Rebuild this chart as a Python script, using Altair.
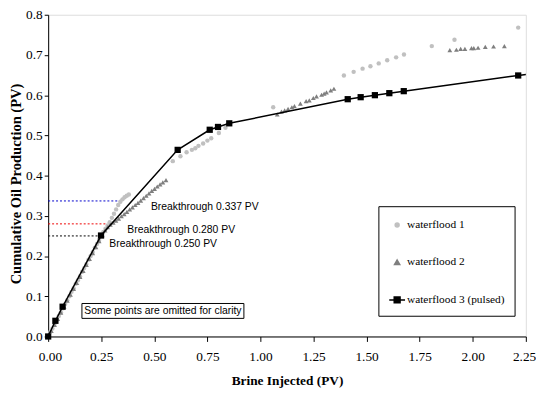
import altair as alt
import pandas as pd

# ---------------- data ----------------
wf1_x = [0.000, 0.010, 0.020, 0.030, 0.040, 0.050, 0.060, 0.070, 0.080, 0.090,
         0.100, 0.110, 0.120, 0.130, 0.140, 0.150, 0.160, 0.170, 0.180, 0.190,
         0.200, 0.210, 0.220, 0.230, 0.240, 0.250, 0.260, 0.270, 0.280, 0.290,
         0.300, 0.310, 0.320, 0.330, 0.340, 0.350, 0.360, 0.370, 0.380,
         0.587, 0.623, 0.652, 0.677, 0.693, 0.708, 0.730, 0.750, 0.768, 0.804, 0.835,
         1.060, 1.393, 1.439, 1.481, 1.518, 1.557, 1.597, 1.639, 1.676, 1.807, 1.914, 2.214]
wf1_y = [0.000, 0.011, 0.020, 0.031, 0.040, 0.051, 0.060, 0.070, 0.081, 0.090,
         0.100, 0.111, 0.120, 0.131, 0.140, 0.150, 0.161, 0.170, 0.180, 0.191,
         0.200, 0.210, 0.221, 0.230, 0.240, 0.251, 0.260, 0.268, 0.276, 0.284,
         0.295, 0.305, 0.316, 0.327, 0.335, 0.341, 0.346, 0.350, 0.353,
         0.436, 0.448, 0.458, 0.464, 0.468, 0.474, 0.480, 0.487, 0.493, 0.506, 0.519,
         0.570, 0.649, 0.658, 0.666, 0.672, 0.679, 0.687, 0.694, 0.701, 0.722, 0.738, 0.768]

wf2_x = [0.000, 0.015, 0.030, 0.045, 0.060, 0.075, 0.090, 0.105, 0.120, 0.135,
         0.150, 0.165, 0.180, 0.195, 0.210, 0.225, 0.240, 0.255, 0.268,
         0.280, 0.293, 0.306, 0.319, 0.332, 0.345, 0.358, 0.371, 0.384, 0.397,
         0.410, 0.423, 0.436, 0.449, 0.462, 0.475, 0.488, 0.501, 0.514, 0.527, 0.540, 0.555,
         1.079, 1.099, 1.114, 1.130, 1.148, 1.160, 1.188, 1.215, 1.230, 1.249,
         1.264, 1.288, 1.300, 1.311, 1.331, 1.346,
         1.892, 1.923, 1.943, 1.963, 1.994, 2.005, 2.025, 2.059, 2.098, 2.149]
wf2_y = [0.000, 0.014, 0.029, 0.044, 0.059, 0.074, 0.089, 0.104, 0.118, 0.133,
         0.148, 0.163, 0.178, 0.193, 0.207, 0.222, 0.237, 0.252, 0.264,
         0.272, 0.278, 0.283, 0.288, 0.293, 0.299, 0.304, 0.310, 0.316, 0.321,
         0.327, 0.332, 0.338, 0.344, 0.350, 0.356, 0.362, 0.367, 0.373, 0.378, 0.383, 0.389,
         0.552, 0.559, 0.562, 0.566, 0.570, 0.573, 0.579, 0.585, 0.587, 0.593,
         0.597, 0.601, 0.604, 0.607, 0.612, 0.616,
         0.712, 0.713, 0.715, 0.715, 0.717, 0.717, 0.718, 0.720, 0.721, 0.722]

wf3_x = [0.000, 0.034, 0.068, 0.249, 0.610, 0.761, 0.800, 0.853, 1.411, 1.472,
         1.539, 1.607, 1.675, 2.214, 2.300]
wf3_y = [0.000, 0.039, 0.074, 0.251, 0.464, 0.514, 0.521, 0.530, 0.590, 0.595,
         0.600, 0.605, 0.610, 0.649, 0.655]

series_names = ["waterflood 1", "waterflood 2", "waterflood 3 (pulsed)"]

bt_values = [0.337, 0.280, 0.250]
bt_end_x = [0.327, 0.270, 0.246]
bt_colors = ["#0000cc", "#ee0000", "#000000"]
bt_labels = ["Breakthrough 0.337 PV", "Breakthrough 0.280 PV", "Breakthrough 0.250 PV"]
bt_label_x = [0.484, 0.373, 0.288]
bt_label_y = [0.3215, 0.264, 0.229]

note_text = ["Some points are omitted for clarity"]
note_x = [0.159]
note_x2 = [0.922]
note_y = [0.045]
note_y2 = [0.082]

x_ticks = [0.0, 0.25, 0.5, 0.75, 1.0, 1.25, 1.5, 1.75, 2.0, 2.25]
y_ticks = [0.0, 0.1, 0.2, 0.3, 0.4, 0.5, 0.6, 0.7, 0.8]

# ---------------- tables ----------------
df1 = pd.DataFrame({"x": wf1_x, "y": wf1_y})
df2 = pd.DataFrame({"x": wf2_x, "y": wf2_y})
df3 = pd.DataFrame({"x": wf3_x, "y": wf3_y})
df_bt = pd.DataFrame({"y": bt_values, "x0": [0.0] * 3, "x1": bt_end_x, "c": bt_colors})
df_btl = pd.DataFrame({"x": bt_label_x, "y": bt_label_y, "t": bt_labels})
df_note = pd.DataFrame({"x": note_x, "x2": note_x2, "y": note_y, "y2": note_y2, "t": note_text})
df_note["xc"] = (df_note["x"] + df_note["x2"]) / 2
df_note["yc"] = (df_note["y"] + df_note["y2"]) / 2
df_leg = pd.DataFrame({"s": series_names, "x": [0.0] * 3, "y": [0.0] * 3})

SERIF = "Liberation Serif"
SANS = "Liberation Sans"

xscale = alt.Scale(domain=[0, 2.25], nice=False, zero=False)
yscale = alt.Scale(domain=[0, 0.8], nice=False, zero=False)

xaxis = alt.Axis(values=x_ticks, format=".2f", grid=False, tickSize=5, tickColor="black",
                 domainColor="black", labelFont=SERIF, labelFontSize=13.5, labelColor="black",
                 labelPadding=8, labelFlush=True, labelFlushOffset=10, labelOverlap=False,
                 title="Brine Injected (PV)", titleFont=SERIF, titleFontSize=13.5,
                 titleFontWeight="bold", titleColor="black", titleY=38, titleBaseline="top")
yaxis = alt.Axis(values=y_ticks, format=".1f", grid=False, tickSize=4, tickColor="black",
                 domainColor="black", labelFont=SERIF, labelFontSize=13.5, labelColor="black",
                 labelPadding=2, labelOverlap=False,
                 title="Cumulative Oil Production (PV)", titleFont=SERIF, titleFontSize=14.7,
                 titleFontWeight="bold", titleColor="black", titleX=-32.5, titleY=171,
                 titleBaseline="middle", titleAlign="center", titleAngle=-90)


def X(f="x"):
    return alt.X(f, type="quantitative", scale=xscale, axis=xaxis)


def Y(f="y"):
    return alt.Y(f, type="quantitative", scale=yscale, axis=yaxis)


bt_rules = alt.Chart(df_bt).mark_rule(strokeDash=[2, 2], strokeWidth=1).encode(
    x=X("x0"), x2="x1", y=Y("y"), color=alt.Color("c:N", scale=None))

bt_text = alt.Chart(df_btl).mark_text(align="left", baseline="middle", font=SANS,
                                      fontSize=10.5, color="black").encode(
    x=X("x"), y=Y("y"), text="t:N")

note_box = alt.Chart(df_note).mark_rect(fill="white", stroke="black", strokeWidth=1).encode(
    x=X("x"), x2="x2", y=Y("y"), y2="y2")
note_txt = alt.Chart(df_note).mark_text(align="center", baseline="middle", font=SANS,
                                        fontSize=10.5, color="black").encode(
    x=X("xc"), y=Y("yc"), text="t:N")

pts1 = alt.Chart(df1).mark_point(shape="circle", filled=True, size=20, color="#c0c0c0",
                                 opacity=1).encode(x=X(), y=Y())
pts2 = alt.Chart(df2).mark_point(shape="triangle-up", filled=True, size=24, color="#7f7f7f",
                                 opacity=1).encode(x=X(), y=Y())
line3 = alt.Chart(df3).mark_line(color="black", strokeWidth=1.5, clip=True).encode(
    x=X(), y=Y(), order="x:Q")
sq3 = alt.Chart(df3).transform_filter("datum.x <= 2.25").mark_point(
    shape="square", filled=True, size=40, color="black", opacity=1).encode(x=X(), y=Y())

leg_paths = [
    "M-0.25,0A0.25,0.25,0,1,1,0.25,0A0.25,0.25,0,1,1,-0.25,0Z",
    "M0,-0.3L0.33,0.27L-0.33,0.27Z",
    "M-1,0H1M-0.37,-0.37H0.37V0.37H-0.37Z",
]
leg_colors = ["#c0c0c0", "#7f7f7f", "#000000"]
legend = alt.Legend(title=None, orient="none", legendX=334.6, legendY=194,
                    strokeColor="black", fillColor="white", padding=10, rowPadding=23,
                    symbolSize=256, symbolStrokeWidth=1.5, labelFont=SERIF,
                    labelFontSize=11.5, labelColor="black", labelOffset=1, labelLimit=0)
leg_layer = alt.Chart(df_leg).mark_point(filled=True, size=0, opacity=1).encode(
    x=X(), y=Y(),
    fill=alt.Fill("s:N", scale=alt.Scale(domain=series_names, range=leg_colors), legend=legend),
    stroke=alt.Stroke("s:N", scale=alt.Scale(domain=series_names, range=leg_colors), legend=legend),
    shape=alt.Shape("s:N", scale=alt.Scale(domain=series_names, range=leg_paths), legend=legend),
)

chart = alt.layer(
    bt_rules, note_box, note_txt, bt_text, pts1, pts2, line3, sq3, leg_layer
).properties(
    width=484, height=326,
    autosize=alt.AutoSizeParams(type="none"),
    padding={"left": 40.7, "top": 4.3, "right": 10.3, "bottom": 51.7},
).configure_view(stroke="#a6a6a6", strokeWidth=1).configure(background="white")

chart.save("out.html", embed_options={"renderer": "svg", "actions": False})
